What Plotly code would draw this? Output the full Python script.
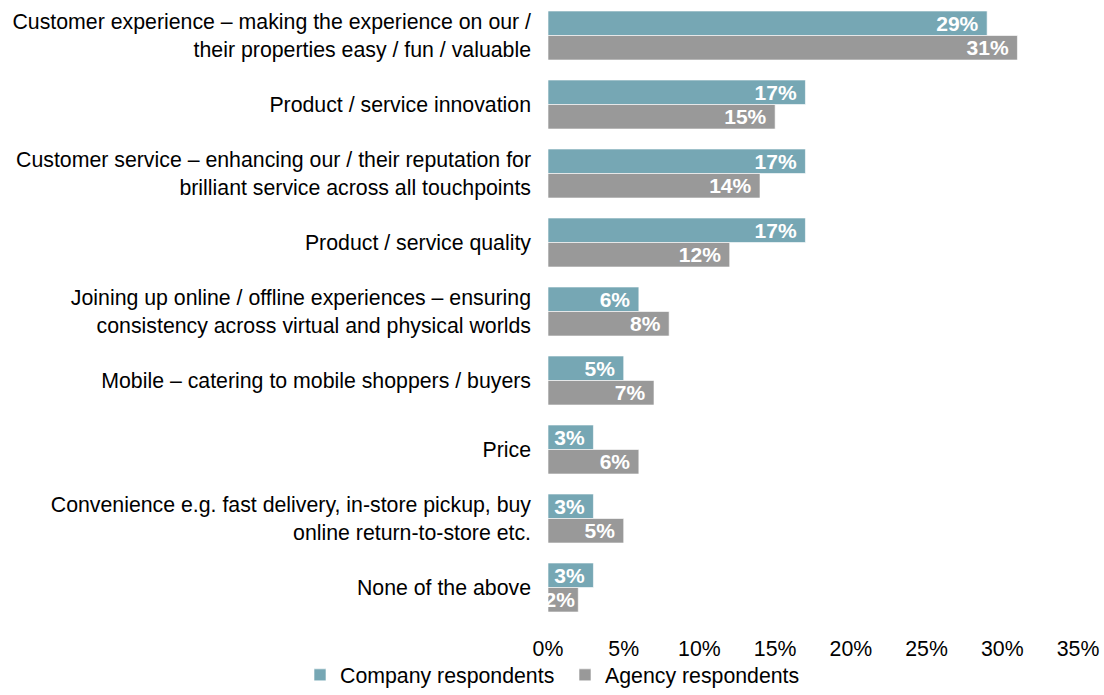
import plotly.graph_objects as go

categories = [
    "Customer experience – making the experience on our /<br>their properties easy / fun / valuable",
    "Product / service innovation",
    "Customer service – enhancing our / their reputation for<br>brilliant service across all touchpoints",
    "Product / service quality",
    "Joining up online / offline experiences – ensuring<br>consistency across virtual and physical worlds",
    "Mobile – catering to mobile shoppers / buyers",
    "Price",
    "Convenience e.g. fast delivery, in-store pickup, buy<br>online return-to-store etc.",
    "None of the above",
]
company = [29, 17, 17, 17, 6, 5, 3, 3, 3]
agency = [31, 15, 14, 12, 8, 7, 6, 5, 2]
tick_vals = [0, 5, 10, 15, 20, 25, 30, 35]
tick_text = ["0%", "5%", "10%", "15%", "20%", "25%", "30%", "35%"]

FONT = "Liberation Sans, Arial, sans-serif"
FS = 21.3

def label(v):
    # trailing no-break space gives the inner right padding, when the label fits
    return f"{v}%" + ("\u00a0" if v >= 3 else "")

def bar(values, name, color):
    return go.Bar(
        y=categories, x=values, orientation="h", name=name,
        marker=dict(color=color, line=dict(color="rgba(255,255,255,0.6)", width=1)),
        text=[label(v) for v in values], textposition="inside", insidetextanchor="end",
        textfont=dict(color="white", size=21, family=FONT, weight="bold"),
        cliponaxis=False, constraintext="none", hoverinfo="x+y",
    )

fig = go.Figure()
fig.add_trace(bar(company, "Company respondents", "#76a7b4"))
fig.add_trace(bar(agency, "Agency respondents", "#999999"))

fig.update_layout(
    width=1104, height=695,
    barmode="group", bargap=0.29, bargroupgap=0,
    plot_bgcolor="white", paper_bgcolor="white",
    margin=dict(l=548, r=26, t=1, b=73, autoexpand=False),
    font=dict(family=FONT, size=FS, color="black"),
    uniformtext=dict(minsize=21, mode="show"),
    xaxis=dict(range=[0, 35], tickvals=tick_vals, ticktext=tick_text,
               showgrid=False, zeroline=False, showline=False, automargin=False,
               ticks="", ticklabelstandoff=12, tickfont=dict(size=FS)),
    yaxis=dict(autorange="reversed", showgrid=False, showline=False, automargin=False,
               ticks="", ticklabelstandoff=16, tickfont=dict(size=FS)),
    legend=dict(orientation="h", xref="container", x=300 / 1104, xanchor="left",
                yref="container", y=(695 - 675) / 695, yanchor="middle",
                bgcolor="rgba(0,0,0,0)", entrywidth=220, entrywidthmode="pixels",
                font=dict(size=FS), itemwidth=30, traceorder="normal"),
)

fig.write_html("out.html", config={"displayModeBar": False},
               post_script="document.body.style.margin='0';")
